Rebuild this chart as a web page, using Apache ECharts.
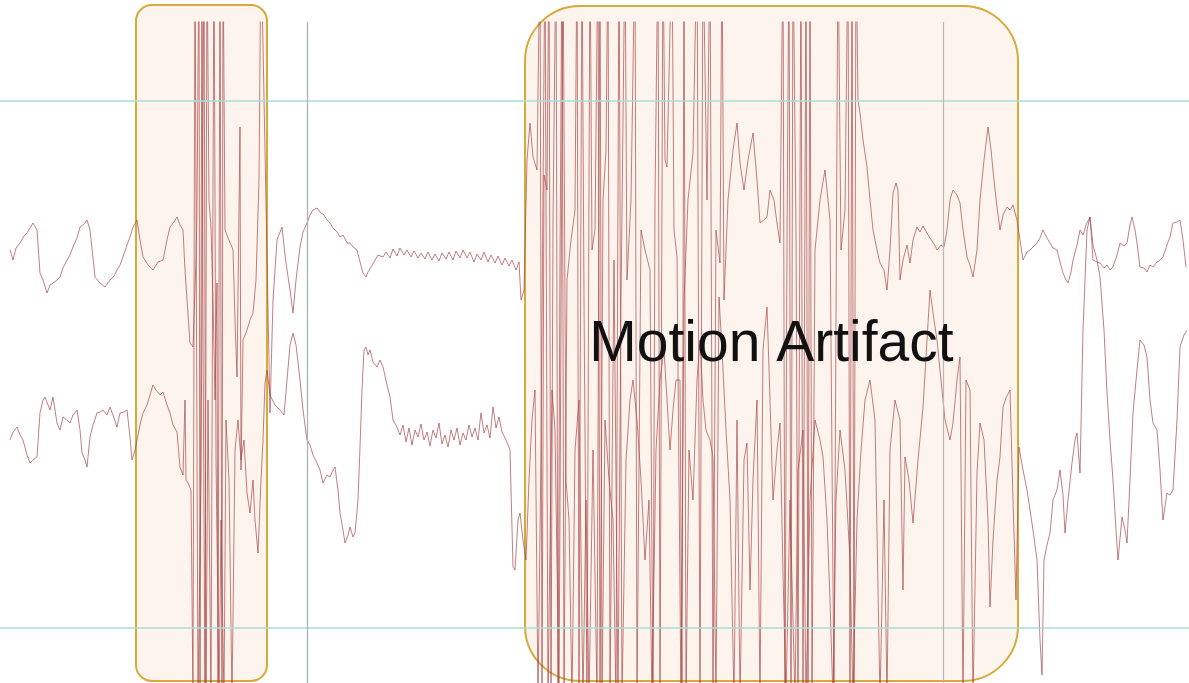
<!DOCTYPE html>
<html>
<head>
<meta charset="utf-8">
<script src="https://cdn.jsdelivr.net/npm/echarts@6/dist/echarts.min.js"></script>
<style>
html,body{margin:0;padding:0;background:#fff;}
#chart{width:1189px;height:683px;}
</style>
</head>
<body>
<div id="chart"></div>
<script>
// ---- data (time sample, amplitude) ----
const thresholds = [264, -263];
const eventMarkers = [307, 943];
const artifactStart = [136, 525];
const artifactEnd = [267, 1018];
const artifactTop = [360, 359];
const artifactBottom = [-316, -316];
const artifactLabel = ['', 'Motion Artifact'];
const labelLevel = 20;

const signalA = [
[10,115],[13,105],[16,117],[20,122],[24,129],[27,132],[30,137],[33,142],[37,135],[40,92],[43,85],[47,72],[50,80],[53,82],[57,85],[60,88],[63,97],[67,105],[70,110],[73,118],[77,127],[80,138],[84,141],[87,145],[90,135],[93,107],[95,88],[100,82],[105,78],[110,85],[114,89],[117,95],[120,100],[123,108],[127,120],[130,128],[133,138],
[137,145],[140,125],[143,108],[148,100],[153,95],[158,103],[163,105],[167,125],[170,138],[174,143],[177,148],[180,140],[183,135],[185,95],[187,65],[190,22],[193,18],[196,105],[197,155],[199,425],[200,-335],[202,425],[203,35],[205,-335],[207,425],[209,165],[211,138],[213,65],[215,-35],[217,82],[218,-335],[220,425],[222,-335],[223,425],[225,135],[228,127],[231,120],[233,115],[235,45],[237,-12],[240,238],[241,-105],[243,25],[247,35],[250,45],[253,52],[256,85],[259,185],[261,425],
[270,-48],[273,65],[277,125],[282,138],[285,110],[287,95],[290,75],[293,52],[296,85],[300,118],[303,133],[307,142],[310,150],[313,155],[317,157],[320,153],[324,150],[327,145],[330,142],[333,137],[337,133],[340,128],[343,130],[347,122],[350,122],[353,118],[357,115],[360,103],[363,92],[366,88],[368,93],[371,98],[374,103],[378,110],[383,108],
[386,113],[390,107],[393,116],[397,109],[400,117],[404,110],[407,115],[411,108],[414,114],[418,107],[421,112],[425,106],[428,113],[432,105],[435,111],[439,104],[442,112],[446,106],[449,113],[453,105],[456,114],[460,107],[463,115],[467,107],[470,113],[474,103],[477,111],[481,105],[484,113],[488,103],[491,110],[495,102],[498,109],[502,100],[505,107],[509,99],[512,105],[516,95],[519,103],[521,65],
[524,75],[527,205],[530,242],[533,208],[537,195],[540,425],[542,-335],[544,190],[547,175],[549,425],[551,-335],[553,142],[556,425],[558,-335],[560,105],[562,425],[564,-335],[567,85],[571,125],[575,155],[577,425],[579,-335],[582,425],[584,65],[587,-335],[590,425],[592,115],[595,135],[598,425],[600,-335],[603,165],[606,215],[608,425],[610,-335],[614,105],[618,-335],[621,65],[625,425],[627,85],[631,165],[635,425],[637,-335],[641,135],[645,115],[650,95],[653,-335],[655,165],[658,425],[660,-335],[663,425],[665,205],[667,198],[672,425],[674,135],[677,108],[681,-335],[684,65],[688,165],[693,212],[697,425],[700,-335],[703,425],[707,165],[710,425],[713,-335],[716,135],[720,102],[722,425],[724,65],[728,165],[733,215],[737,242],[740,202],[744,175],[748,205],[753,232],[757,185],[760,142],[764,145],[767,148],[770,175],[774,165],[777,142],[780,122],[783,425],[785,-335],[787,125],[789,425],[791,-335],[793,425],[796,135],[798,-335],[801,425],[803,-335],[806,425],[808,-335],[810,425],[812,-335],[815,115],[820,165],[825,195],[830,145],[834,-335],[838,425],[841,115],[845,155],[848,425],[850,-335],[852,425],[854,-335],[856,425],[858,265],[860,252],[863,225],[867,198],[870,165],[873,135],[877,115],[880,102],[884,95],[887,75],[890,115],[893,172],[896,182],[898,175],[900,85],[903,105],[907,120],[910,102],[913,125],[917,138],[920,133],[923,139],[927,132],[930,127],[934,121],[937,115],[941,120],[944,118],[947,135],[950,165],[953,175],[957,170],[960,162],[963,135],[967,108],[970,100],[973,88],[977,115],[980,165],[984,205],[988,238],[991,215],[994,185],[997,158],[1000,135],[1003,150],[1007,158],[1010,155],[1013,160],[1017,145],
[1020,125],[1023,105],[1027,113],[1030,115],[1034,119],[1037,122],[1040,127],[1043,135],[1047,127],[1050,122],[1053,117],[1057,115],[1060,103],[1063,92],[1066,85],[1068,82],[1071,93],[1073,105],[1077,120],[1080,135],[1083,130],[1086,140],[1090,148],[1093,105],[1097,103],[1100,102],[1104,97],[1107,100],[1110,95],[1113,98],[1117,110],[1120,122],[1124,119],[1127,122],[1130,140],[1132,148],[1135,135],[1137,122],[1140,98],[1144,97],[1147,93],[1150,100],[1153,98],[1157,103],[1160,105],[1163,108],[1167,120],[1170,128],[1173,142],[1177,143],[1180,145],[1183,125],[1186,98]
];

const signalB = [
[10,-75],[13,-67],[17,-62],[20,-70],[23,-75],[27,-90],[30,-98],[33,-95],[37,-92],[40,-48],[43,-35],[45,-32],[48,-40],[50,-45],[53,-32],[57,-58],[60,-65],[63,-52],[67,-55],[70,-58],[73,-50],[77,-45],[80,-65],[82,-88],[85,-95],[87,-102],[90,-72],[93,-60],[97,-48],[100,-47],[103,-45],[107,-50],[110,-42],[114,-53],[117,-62],[120,-48],[124,-47],[127,-45],[130,-72],[132,-95],
[135,-85],[137,-75],[140,-60],[143,-48],[147,-40],[150,-30],[153,-20],[156,-25],[160,-30],[163,-27],[167,-40],[170,-48],[173,-60],[177,-67],[180,-102],[183,-110],[185,-35],[186,-115],[188,-118],[191,-125],[193,-335],[195,425],[198,-335],[201,-115],[204,425],[206,-335],[208,-35],[211,-335],[214,425],[216,-95],[219,-335],[221,-155],[224,-335],[226,-55],[229,-115],[232,-335],[235,-85],[238,-55],[241,-95],[244,-75],[247,-128],[250,-148],[253,-115],[255,-155],[258,-188],[261,-115],[263,-75],[265,-18],[267,-5],
[270,-30],[275,-40],[280,-45],[284,-50],[287,-15],[290,20],[293,32],[296,20],[300,-15],[303,-45],[307,-75],[310,-80],[313,-90],[317,-98],[320,-105],[323,-118],[327,-110],[330,-112],[333,-105],[335,-102],[338,-125],[340,-148],[343,-165],[345,-178],[348,-170],[350,-162],[353,-172],[355,-168],[358,-135],[360,-82],[362,-25],[364,15],[366,18],[368,10],[370,15],[373,3],[377,-2],[380,5],[383,-2],[387,-20],[390,-32],[393,-55],[397,-62],
[400,-70],[403,-60],[406,-77],[409,-63],[412,-80],[415,-65],[418,-72],[421,-59],[424,-75],[427,-67],[430,-81],[433,-65],[436,-73],[439,-58],[442,-79],[445,-70],[448,-82],[451,-65],[454,-75],[457,-63],[460,-80],[463,-68],[466,-75],[469,-60],[472,-72],[475,-63],[478,-75],[481,-48],[484,-68],[487,-60],[490,-73],[493,-42],[496,-63],[499,-52],[502,-67],[506,-75],[510,-85],[513,-202],[515,-205],[518,-155],[520,-148],[523,-175],
[526,-195],[529,-115],[532,-55],[535,-25],[538,-335],[541,-85],[545,425],[548,-335],[552,-25],[555,-65],[559,-335],[563,425],[566,-115],[569,-155],[572,-335],[575,-85],[579,-35],[583,-335],[586,-135],[589,-335],[593,-85],[597,-335],[600,425],[602,-335],[605,-55],[609,-115],[613,-155],[616,-335],[619,425],[622,-335],[626,-95],[630,-35],[633,-15],[637,-55],[641,-115],[645,-195],[649,-135],[652,-335],[656,-85],[660,-15],[664,15],[667,-35],[670,-85],[673,-45],[676,-15],[680,-15],[682,-335],[684,425],[686,-335],[689,-85],[693,-135],[697,-15],[700,25],[703,-35],[706,-65],[710,-75],[713,-92],[716,-335],[719,68],[722,15],[726,-65],[730,-135],[734,-335],[737,-55],[740,-335],[744,-95],[747,-78],[750,-225],[753,-115],[757,-35],[760,-335],[763,15],[767,58],[770,-35],[773,-135],[777,-85],[780,-58],[783,-208],[786,-335],[790,-135],[795,-335],[798,-105],[803,-65],[806,-335],[810,-135],[815,-55],[820,-75],[823,-92],[827,-155],[830,-235],[833,-335],[836,-135],[840,-65],[845,-105],[850,-195],[853,-335],[857,-155],[861,-85],[865,-35],[870,-15],[875,-55],[880,-335],[884,-135],[887,-335],[890,-85],[895,-35],[900,-55],[903,-225],[905,-92],[909,-115],[913,-158],[918,-95],[923,-42],[927,25],[930,75],[934,45],[937,25],[941,-15],[945,-55],[950,-75],[953,-58],[957,-15],[960,8],[963,-335],[966,-15],[970,-25],[973,-335],[977,-108],[980,-58],[984,-75],[988,-155],[990,-242],[993,-175],[997,-115],[1000,-92],[1003,-42],[1006,-33],[1010,-25],[1013,-135],[1016,-235],
[1019,-82],[1023,-105],[1027,-125],[1030,-145],[1033,-165],[1037,-195],[1040,-275],[1042,-310],[1044,-195],[1047,-180],[1050,-168],[1053,-135],[1057,-125],[1060,-105],[1063,-130],[1065,-168],[1068,-135],[1072,-98],[1075,-75],[1077,-68],[1080,-108],[1083,35],[1087,135],[1090,148],[1093,120],[1097,105],[1100,88],[1104,35],[1107,-28],[1110,-75],[1113,-115],[1116,-165],[1118,-195],[1122,-152],[1125,-165],[1127,-178],[1130,-115],[1133,-48],[1137,-5],[1140,25],[1144,20],[1147,8],[1150,-35],[1153,-58],[1157,-65],[1160,-105],[1163,-155],[1167,-128],[1170,-130],[1173,-125],[1177,-55],[1180,18],[1184,30],[1187,35]
];

// ---- chart ----
const chart = echarts.init(document.getElementById('chart'), null, {renderer: 'canvas'});
const artifactData = artifactStart.map((s, i) => [s, artifactEnd[i], artifactTop[i], artifactBottom[i], i]);
const radii = [16, 55];
const lineColor = 'rgba(168, 72, 72, 0.7)';

chart.setOption({
  animation: false,
  backgroundColor: '#ffffff',
  grid: {left: 0, right: 0, top: 22, bottom: 0},
  xAxis: {type: 'value', min: 0, max: 1189, show: false},
  yAxis: {type: 'value', min: -318, max: 343, show: false},
  series: [
    {
      type: 'custom',
      z: 1,
      clip: false,
      silent: true,
      data: artifactData,
      renderItem: function (params, api) {
        const p0 = api.coord([api.value(0), api.value(2)]);
        const p1 = api.coord([api.value(1), api.value(3)]);
        const idx = api.value(4);
        return {
          type: 'rect',
          shape: {x: p0[0], y: p0[1], width: p1[0] - p0[0], height: p1[1] - p0[1], r: radii[idx]},
          style: {fill: 'rgba(250, 212, 190, 0.26)', stroke: '#d6ab3a', lineWidth: 2}
        };
      }
    },
    {
      type: 'line', z: 3, data: signalA, showSymbol: false, clip: true, silent: true,
      lineStyle: {color: lineColor, width: 1},
      markLine: {
        silent: true, symbol: 'none', label: {show: false}, animation: false,
        data: [
          {yAxis: thresholds[0], lineStyle: {color: '#a9ddd9', width: 1.5, type: 'solid'}},
          {yAxis: thresholds[1], lineStyle: {color: '#a9ddd9', width: 1.5, type: 'solid'}},
          {xAxis: eventMarkers[0], lineStyle: {color: '#aab3bb', width: 1.3, type: 'solid'}},
          {xAxis: eventMarkers[1], lineStyle: {color: '#b9b6b6', width: 1.2, type: 'solid'}}
        ]
      }
    },
    {
      type: 'line', z: 3, data: signalB, showSymbol: false, clip: true, silent: true,
      lineStyle: {color: lineColor, width: 1}
    },
    {
      type: 'custom',
      z: 10,
      clip: false,
      silent: true,
      data: artifactData.filter(d => artifactLabel[d[4]]),
      renderItem: function (params, api) {
        const idx = api.value(4);
        const cx = (api.value(0) + api.value(1)) / 2;
        const p = api.coord([cx, labelLevel]);
        return {
          type: 'text',
          style: {
            x: p[0], y: p[1], text: artifactLabel[idx],
            fill: '#111111', font: '57px "Liberation Sans", Arial, sans-serif',
            align: 'center', verticalAlign: 'middle'
          }
        };
      }
    }
  ]
});
</script>
</body>
</html>
